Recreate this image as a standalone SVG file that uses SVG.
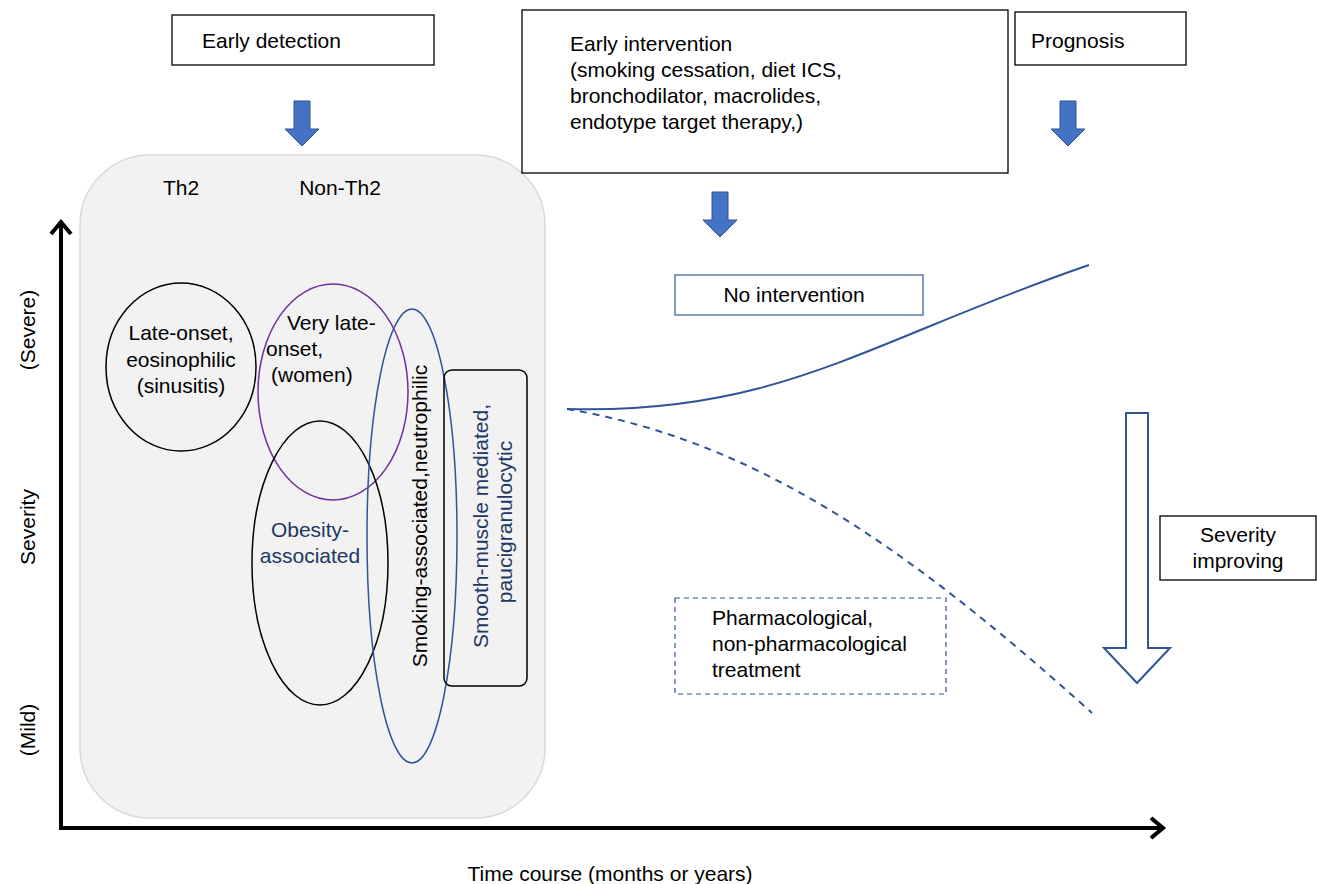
<svg xmlns="http://www.w3.org/2000/svg" width="1317" height="884" viewBox="0 0 1317 884">
<style>
text{font-family:"Liberation Sans",Arial,sans-serif;font-size:21px;fill:#000}
.dk{fill:#203864}
.box{fill:#fff;stroke:#000;stroke-width:1.3}
.barrow{fill:#4472c4;stroke:#2f528f;stroke-width:1}
.axis{fill:none;stroke:#000;stroke-width:4}
.curve{fill:none;stroke:#2f5597;stroke-width:2}
.c{text-anchor:middle}
</style>
<rect width="1317" height="884" fill="#fff"/>
<g id="phenotype-panel">
<rect x="80" y="155" width="465" height="663" rx="70" ry="70" fill="#f2f2f2" stroke="#d9d9d9" stroke-width="1.5"/>
<text x="181" y="195" class="c">Th2</text>
<text x="340" y="195" class="c">Non-Th2</text>
</g>
<g id="late-onset">
<ellipse cx="181" cy="367" rx="75" ry="84" fill="none" stroke="#000" stroke-width="1.5"/>
<text x="181" y="340" class="c">Late-onset,</text>
<text x="181" y="367" class="c">eosinophilic</text>
<text x="181" y="393" class="c">(sinusitis)</text>
</g>
<g id="very-late">
<ellipse cx="333" cy="392" rx="75" ry="108" fill="none" stroke="#7030a0" stroke-width="1.5"/>
<text x="287" y="330">Very late-</text>
<text x="266" y="356">onset,</text>
<text x="271" y="382">(women)</text>
</g>
<g id="obesity">
<ellipse cx="320" cy="563" rx="68" ry="142" fill="none" stroke="#000" stroke-width="1.5"/>
<text x="310" y="537" class="c dk">Obesity-</text>
<text x="310" y="563" class="c dk">associated</text>
</g>
<g id="smoking">
<ellipse cx="412" cy="536" rx="45" ry="227" fill="none" stroke="#2f5597" stroke-width="1.5"/>
<text transform="translate(427,516) rotate(-90)" class="c">Smoking-associated,neutrophilic</text>
</g>
<g id="smooth-muscle">
<rect x="444" y="370" width="83" height="316" rx="8" ry="8" fill="none" stroke="#000" stroke-width="1.5"/>
<text transform="translate(488,526) rotate(-90)" class="c dk">Smooth-muscle mediated,</text>
<text transform="translate(512,522) rotate(-90)" class="c dk">paucigranulocytic</text>
</g>
<g id="early-detection">
<rect x="172" y="15" width="262" height="50" class="box"/>
<text x="202" y="48">Early detection</text>
</g>
<g id="early-intervention">
<rect x="522" y="10" width="486" height="163" class="box"/>
<text x="570" y="51">Early intervention</text>
<text x="570" y="77">(smoking cessation, diet ICS,</text>
<text x="570" y="103">bronchodilator, macrolides,</text>
<text x="570" y="129">endotype target therapy,)</text>
</g>
<g id="prognosis">
<rect x="1015" y="12" width="171" height="53" class="box"/>
<text x="1031" y="48">Prognosis</text>
</g>
<g id="no-intervention">
<rect x="675" y="275" width="248" height="40" fill="#fff" stroke="#2f5597" stroke-width="1.2"/>
<text x="794" y="302" class="c">No intervention</text>
</g>
<g id="treatment">
<rect x="675" y="598" width="271" height="96" fill="none" stroke="#2f5597" stroke-width="1.2" stroke-dasharray="5,4"/>
<text x="712" y="625">Pharmacological,</text>
<text x="712" y="651">non-pharmacological</text>
<text x="712" y="677">treatment</text>
</g>
<g id="severity-improving">
<rect x="1160" y="516" width="156" height="64" class="box"/>
<text x="1238" y="542" class="c">Severity</text>
<text x="1238" y="568" class="c">improving</text>
</g>
<g id="axis-labels">
<text transform="translate(35,330) rotate(-90)" class="c">(Severe)</text>
<text transform="translate(35,527) rotate(-90)" class="c">Severity</text>
<text transform="translate(35,730) rotate(-90)" class="c">(Mild)</text>
<text x="610" y="881" class="c">Time course (months or years)</text>
</g>
<g id="connectors">
<polyline class="axis" points="61,222 61,828 1163,828"/>
<polyline class="axis" points="51,234 61,222 71,234"/>
<polyline class="axis" points="1151,818 1163,828 1151,838"/>
<polygon class="barrow" points="294,101 310,101 310,129 319,129 302,146 285,129 294,129"/>
<polygon class="barrow" points="712,192 728,192 728,220 737,220 720,237 703,220 712,220"/>
<polygon class="barrow" points="1060,101 1076,101 1076,129 1085,129 1068,146 1051,129 1060,129"/>
<polygon points="1126,413 1148,413 1148,648 1170,648 1137,683 1104,648 1126,648" fill="#fff" stroke="#2f5597" stroke-width="2"/>
<path class="curve" d="M567,409 C780,415 870,340 1089,265"/>
<path class="curve" d="M567,409 C750,440 900,540 1092,713" stroke-dasharray="7,6"/>
</g>
</svg>
